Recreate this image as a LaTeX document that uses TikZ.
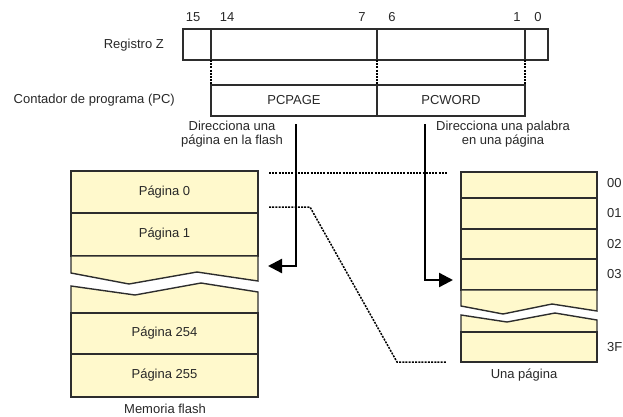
\documentclass[tikz,border=0pt]{standalone}
\usepackage{fontspec}
\setmainfont{Liberation Sans}
\usetikzlibrary{arrows.meta}
\definecolor{pagefill}{RGB}{255,249,204}
\definecolor{linec}{RGB}{45,45,45}
\definecolor{txt}{RGB}{40,40,40}
\begin{document}
\begin{tikzpicture}[x=1pt,y=-1pt,
  every node/.style={font=\fontsize{13}{14}\selectfont, text=txt},
  regbox/.style={draw=linec, line width=1.2pt, inner sep=0pt, outer sep=0pt, anchor=north west},
  pg/.style={draw=linec, fill=pagefill, line width=1.4pt, inner sep=0pt, outer sep=0pt, anchor=north west},
  brk/.style={draw=linec, fill=pagefill, line width=1.4pt, line join=miter},
  dots/.style={draw=black, line width=1.5pt, dash pattern=on 2pt off 1.2pt},
  bigarrow/.style={draw=black, line width=2.3pt, -{Triangle[length=14pt,width=14pt]}},
  lbl/.style={inner sep=0pt, align=center}
]
\useasboundingbox (0,0) rectangle (623,416);

% ---------- Registro Z ----------
\node[regbox, minimum width=365pt, minimum height=31pt] (regz) at (183,29) {};
\coordinate (z14) at (211,29);
\coordinate (z7) at (377,29);
\coordinate (z1) at (525,29);
\draw[linec, line width=1.2pt] (z14) -- ++(0,31) coordinate (z14b);
\draw[linec, line width=1.2pt] (z7) -- ++(0,31) coordinate (z7b);
\draw[linec, line width=1.2pt] (z1) -- ++(0,31) coordinate (z1b);
\node[lbl, anchor=east] (lregz) at (164,45) {Registro Z};

\node[lbl] (b15) at (193,17) {15};
\node[lbl] (b14) at (227,17) {14};
\node[lbl] (b7) at (362,17) {7};
\node[lbl] (b6) at (392,17) {6};
\node[lbl] (b1) at (517,17) {1};
\node[lbl] (b0) at (538,17) {0};

% ---------- PC ----------
\node[regbox, minimum width=166pt, minimum height=31pt] (pcpage) at (211,85) {PCPAGE};
\node[regbox, minimum width=148pt, minimum height=31pt] (pcword) at (377,85) {PCWORD};
\node[lbl, anchor=east] (lpc) at (175,100) {Contador de programa (PC)};

\draw[dots] (z14b) -- (pcpage.north west);
\draw[dots] (z7b) -- (pcpage.north east);
\draw[dots] (z1b) -- (pcword.north east);

\node[lbl] (dleft) at (232,134) {Direcciona una\\página en la flash};
\node[lbl] (dright) at (503,134) {Direcciona una palabra\\en una página};

% ---------- Memoria flash ----------
\node[pg, minimum width=187pt, minimum height=42pt] (p0) at (71,171) {Página 0};
\node[pg, minimum width=187pt, minimum height=43pt] (p1) at (71,213) {Página 1};
\path[brk] (71,256) -- (258,256) -- (258,281) -- (197,272) -- (129,284) -- (71,273) -- cycle;
\path[brk] (71,286) -- (135,295) -- (201,283) -- (258,292) -- (258,313) -- (71,313) -- cycle;
\node[pg, minimum width=187pt, minimum height=41pt] (p254) at (71,313) {Página 254};
\node[pg, minimum width=187pt, minimum height=43pt] (p255) at (71,354) {Página 255};
\node[lbl] (lflash) at (165,409) {Memoria flash};

% ---------- Una página ----------
\node[pg, minimum width=136pt, minimum height=26pt] (r0) at (461,172) {};
\node[pg, minimum width=136pt, minimum height=31pt] (r1) at (461,198) {};
\node[pg, minimum width=136pt, minimum height=30pt] (r2) at (461,229) {};
\node[pg, minimum width=136pt, minimum height=31pt] (r3) at (461,259) {};
\path[brk] (461,290) -- (597,290) -- (597,311) -- (552,304) -- (503,314) -- (461,306) -- cycle;
\path[brk] (461,315) -- (507,322) -- (555,313) -- (597,320) -- (597,332) -- (461,332) -- cycle;
\node[pg, minimum width=136pt, minimum height=30pt] (rl) at (461,332) {};
\node[lbl] (lpage) at (524,375) {Una página};

\node[lbl, anchor=west] (a00) at (607,183) {00};
\node[lbl, anchor=west] (a01) at (607,213) {01};
\node[lbl, anchor=west] (a02) at (607,244) {02};
\node[lbl, anchor=west] (a03) at (607,274) {03};
\node[lbl, anchor=west] (a3f) at (607,347) {3F};

% ---------- dotted page map ----------
\coordinate (d1a) at (269,173);
\coordinate (d1b) at (447,173);
\coordinate (d2a) at (269,207);
\coordinate (d2b) at (310,207);
\coordinate (d2c) at (397,362);
\coordinate (d2d) at (447,362);
\draw[dots] (d1a) -- (d1b);
\draw[dots] (d2a) -- (d2b) -- (d2c) -- (d2d);

% ---------- arrows ----------
\coordinate (aL) at (296,124);
\coordinate (aLc) at (296,266);
\coordinate (aLt) at (268,266);
\draw[bigarrow] (aL) -- (aLc) -- (aLt);
\coordinate (aR) at (425,124);
\coordinate (aRc) at (425,280);
\coordinate (aRt) at (453,280);
\draw[bigarrow] (aR) -- (aRc) -- (aRt);
\end{tikzpicture}
\end{document}
